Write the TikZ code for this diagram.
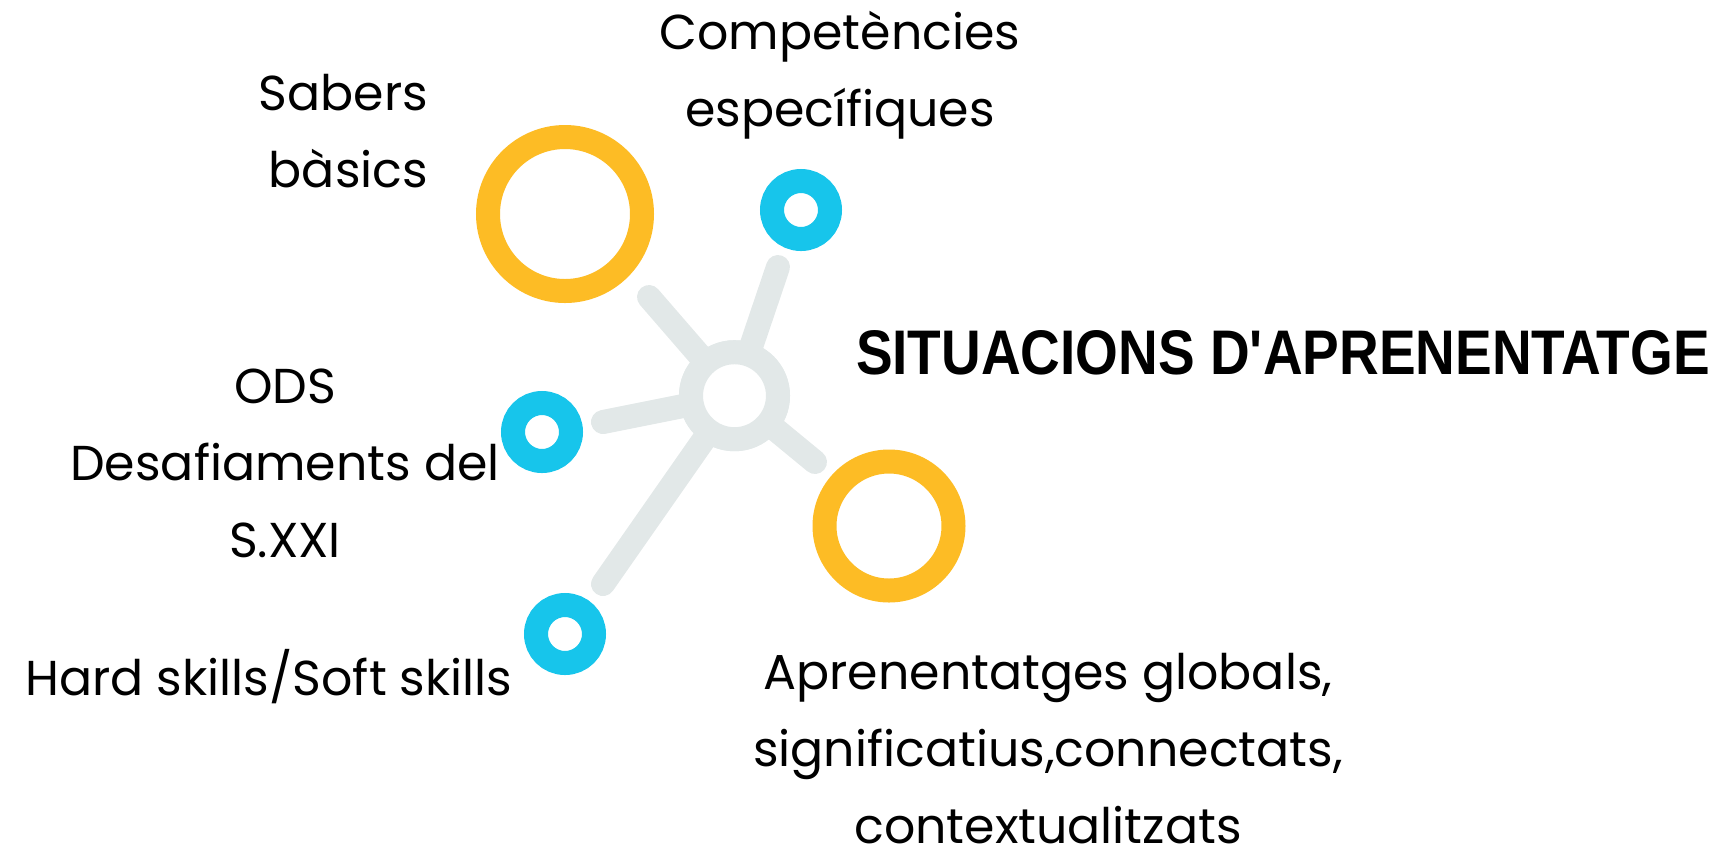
\documentclass[tikz,border=0pt]{standalone}
\usepackage{fontspec}
\usepackage{graphicx}
\setmainfont{Poppins}
\newfontfamily\titlefont{Liberation Sans}
\definecolor{ringorange}{HTML}{FDBC25}
\definecolor{ringblue}{HTML}{17C5EB}
\definecolor{spokegray}{HTML}{E2E8E8}
\begin{document}
\begin{tikzpicture}[x=0.5pt, y=-0.5pt]
\tikzset{ inner sep=0pt, outer sep=0pt,
  ring/.style={circle, draw=#1, line width=12pt, fill=white},
  spoke/.style={spokegray, line width=12pt, line cap=round},
  lbl/.style={font=\fontsize{24.5}{38.5}\selectfont, align=center},
}
\useasboundingbox (0,0) rectangle (1721,859);

%\draw [lightgray, dashed](0,0) grid[step=100] (1721,859);

\node [ring=spokegray, minimum size=43.5pt] (hub) at (734.5,395.7) {};

\coordinate (e1) at (649,297);
\coordinate (e2) at (778,267);
\coordinate (e3) at (603,422);
\coordinate (e4) at (815,462);
\coordinate (e5) at (603,584);

\draw [spoke] (hub.center) -- (e1);
\draw [spoke] (hub.center) -- (e2);
\draw [spoke] (hub.center) -- (e3);
\draw [spoke] (hub.center) -- (e4);
\draw [spoke] (hub.center) -- (e5);
\node [ring=spokegray, minimum size=43.5pt] at (hub) {};

\node [ring=ringorange, minimum size=77pt]   (sabers) at (565,214) {};
\node [ring=ringblue,   minimum size=29pt]   (comp)   at (801,210) {};
\node [ring=ringblue,   minimum size=29pt]   (ods)    at (542,432) {};
\node [ring=ringorange, minimum size=64.5pt] (aprn)   at (889,526) {};
\node [ring=ringblue,   minimum size=29pt]   (skills) at (565,634) {};

\node [lbl, align=right, anchor=east] (tsabers) at (428,131) {Sabers\\bàsics};
\node [lbl] (tcomp) at (840,75) {Competències\\específiques};
\node [lbl] (tods) at (285,463) {ODS\\Desafiaments del\\S.XXI};
\node [lbl] (tskills) at (269,677) {Hard skills/Soft skills};
\node [lbl] (taprn) at (1048,749) {Aprenentatges globals,\\significatius,connectats,\\contextualitzats};

\node (title) at (1283,353) {\resizebox{427pt}{22pt}{\titlefont\bfseries SITUACIONS D\textquotesingle APRENENTATGE}};

\end{tikzpicture}
\end{document}
